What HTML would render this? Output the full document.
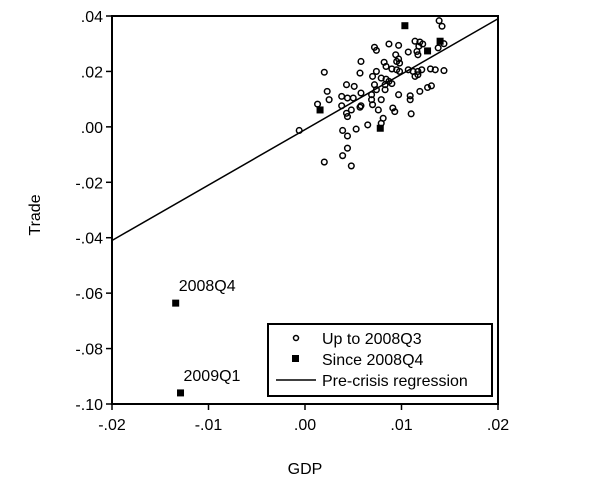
<!DOCTYPE html>
<html><head><meta charset="utf-8"><style>
body{margin:0;background:#fff}
svg text{font-family:"Liberation Sans",sans-serif;fill:#000}
</style></head><body>
<svg width="600" height="494">
<g id="marks"></g>
<rect x="112" y="16" width="386" height="388" fill="none" stroke="#000" stroke-width="2"/>
<g id="axes"></g>
<text x="40" y="215" font-size="16" text-anchor="middle" transform="rotate(-90 40 215)">Trade</text>
<text x="305" y="474" font-size="16" text-anchor="middle">GDP</text>
<g>
<rect x="268" y="324" width="224" height="72" fill="#fff" stroke="#000" stroke-width="2"/>
<circle cx="296" cy="338" r="2.5" fill="#fff" stroke="#000" stroke-width="1.5"/>
<text x="322" y="344" font-size="16">Up to 2008Q3</text>
<rect x="292" y="355" width="7" height="7" fill="#000"/>
<text x="322" y="365" font-size="16">Since 2008Q4</text>
<line x1="276" y1="380" x2="316" y2="380" stroke="#000" stroke-width="1.5"/>
<text x="322" y="386" font-size="16">Pre-crisis regression</text>
</g>
</svg>
<script>
const xTicks=[-0.02,-0.01,0.00,0.01,0.02];
const xTickLabels=["-.02","-.01",".00",".01",".02"];
const yTicks=[0.04,0.02,0.00,-0.02,-0.04,-0.06,-0.08,-0.10];
const yTickLabels=[".04",".02",".00","-.02","-.04","-.06","-.08","-.10"];
const preX=[.0139,.0142,.0087,.0097,.0072,.0074,.0114,.0119,.0122,.0118,.0107,.0116,.0117,.0138,.0144,.0058,.0094,.0097,.0095,.0098,.0082,.0084,.0090,.0095,.0098,.0020,.0057,.0074,.0070,.0107,.0112,.0117,.0121,.0130,.0135,.0144,.0114,.0117,.0079,.0084,.0087,.0083,.0090,.0043,.0051,.0072,.0074,.0083,.0023,.0058,.0069,.0038,.0044,.0050,.0025,.0097,.0109,.0109,.0119,.0127,.0131,.0013,.0038,.0069,.0070,.0079,.0048,.0043,.0057,.0058,.0091,.0093,.0110,.0044,.0081,.0079,.0065,.0039,.0044,.0053,-.0006,.0044,.0039,.0076,.0020,.0048];
const preY=[.0383,.0363,.0299,.0294,.0287,.0276,.0309,.0306,.0299,.0291,.0270,.0272,.0260,.0285,.0300,.0236,.0260,.0245,.0236,.0230,.0233,.0218,.0209,.0206,.0200,.0197,.0194,.0200,.0182,.0206,.0200,.0200,.0206,.0209,.0206,.0203,.0182,.0188,.0176,.0172,.0164,.0152,.0156,.0152,.0146,.0152,.0134,.0134,.0128,.0122,.0116,.0110,.0104,.0104,.0098,.0116,.0112,.0098,.0128,.0142,.0148,.0082,.0076,.0098,.0080,.0098,.0061,.0049,.0071,.0076,.0068,.0055,.0047,.0037,.0031,.0013,.0007,-.0013,-.0033,-.0008,-.0013,-.0077,-.0104,.0061,-.0127,-.0141];
const postX=[.01035,.0140,.0127,.00156,.0078,-.0134,-.0129];
const postY=[.0365,.0309,.0274,.0061,-.0005,-.0636,-.0960];
const postLabels=["","","","","","2008Q4","2009Q1"];
const regIntercept=-0.001;
const regSlope=2.0;
const regRange=[-0.02,0.02];

const NS="http://www.w3.org/2000/svg";
const X=v=>112+(v+0.02)/0.04*386;
const Y=v=>16+(0.04-v)/0.14*388;
function mk(t,a,p){const e=document.createElementNS(NS,t);for(const k in a)e.setAttribute(k,a[k]);p.appendChild(e);return e;}
const marks=document.getElementById('marks'),axes=document.getElementById('axes');
xTicks.forEach((v,i)=>{
 const l=mk('line',{x1:X(v),x2:X(v),y1:404,y2:410,stroke:'#000','stroke-width':1.5},axes);
 
 
 const t=mk('text',{x:X(v),y:430,'font-size':16,'text-anchor':'middle'},axes);t.textContent=xTickLabels[i];
 
 
});
yTicks.forEach((v,i)=>{
 const l=mk('line',{x1:106,x2:112,y1:Y(v),y2:Y(v),stroke:'#000','stroke-width':1.5},axes);
 
 
 const t=mk('text',{x:103,y:Y(v)+6,'font-size':16,'text-anchor':'end'},axes);t.textContent=yTickLabels[i];
 
 
});
const rl=mk('line',{x1:X(regRange[0]),y1:Y(regIntercept+regSlope*regRange[0]),x2:X(regRange[1]),y2:Y(regIntercept+regSlope*regRange[1]),stroke:'#000','stroke-width':1.5},marks);


preX.forEach((v,i)=>{
 const c=mk('circle',{cx:X(v),cy:Y(preY[i]),r:2.8,fill:'none',stroke:'#000','stroke-width':1.5},marks);
 
 
});
postX.forEach((v,i)=>{
 const r=mk('rect',{x:X(v)-3.5,y:Y(postY[i])-3.5,width:7,height:7,fill:'#000'},marks);
 
 
 if(postLabels[i]){
  const t=mk('text',{x:X(v)+3,y:Y(postY[i])-12,'font-size':16},marks);t.textContent=postLabels[i];
  
  
 }
});
</script>
</body></html>
